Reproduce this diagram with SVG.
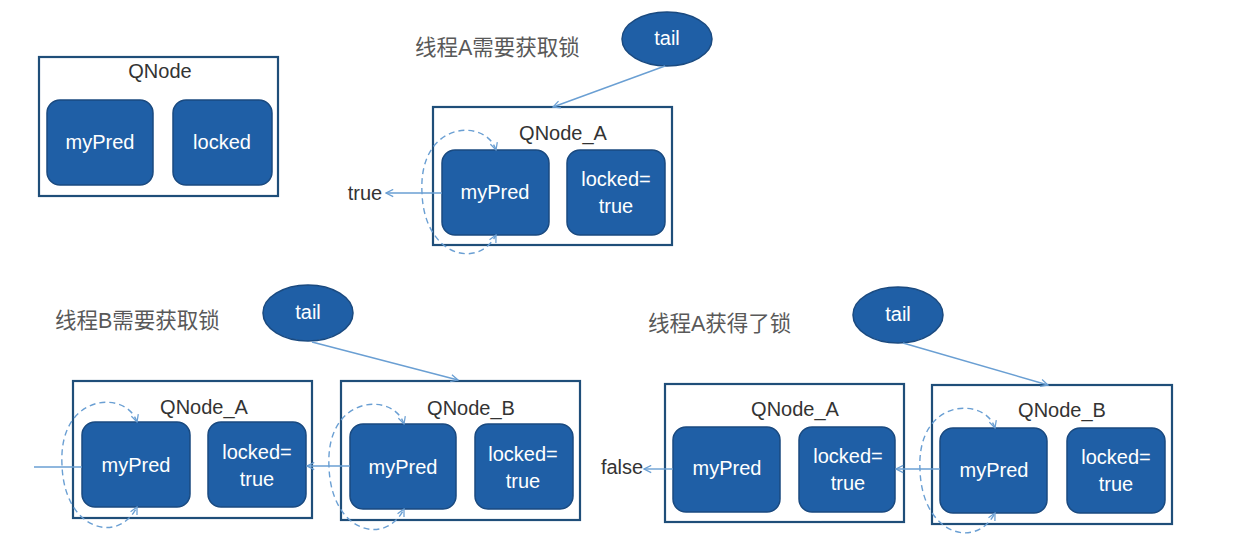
<svg xmlns="http://www.w3.org/2000/svg" width="1240" height="543" viewBox="0 0 1240 543">
<defs>
<style>
.frame{fill:#ffffff;stroke:#1f4e79;stroke-width:2.2}
.cell{fill:#1f5fa6;stroke:#1a4a80;stroke-width:1.5}
.tailshape{fill:#1f5fa6;stroke:#1a4a80;stroke-width:1.5}
.wt{font-family:"Liberation Sans",Arial,sans-serif;font-size:20px;fill:#ffffff;text-anchor:middle}
.lbl{font-family:"Liberation Sans",Arial,sans-serif;font-size:20px;fill:#333333;text-anchor:middle}
.ttl{font-family:"Liberation Sans","Noto Sans CJK SC",sans-serif;font-size:21.5px;fill:#595959}
.conn{fill:none;stroke:#6a9fd3;stroke-width:1.4}
.loop{fill:none;stroke:#6a9fd3;stroke-width:1.4;stroke-dasharray:6 4}
</style>
<marker id="arr" viewBox="0 0 10 10" refX="9" refY="5" markerWidth="9" markerHeight="9" markerUnits="userSpaceOnUse" orient="auto-start-reverse">
<path d="M1,1 L9,5 L1,9" fill="none" stroke="#6a9fd3" stroke-width="1.4"/>
</marker>
</defs>
<rect width="1240" height="543" fill="#ffffff"/>

<g id="legend">
<rect class="frame" x="39" y="57" width="239" height="139"/>
<text class="lbl" x="160" y="78">QNode</text>
<rect class="cell" x="47" y="100" width="106" height="85" rx="13"/>
<text class="wt" x="100" y="149">myPred</text>
<rect class="cell" x="173" y="100" width="99" height="85" rx="13"/>
<text class="wt" x="222" y="149">locked</text>
</g>

<g id="titles">
<text class="ttl" x="415" y="55">线程A需要获取锁</text>
<text class="ttl" x="55" y="328">线程B需要获取锁</text>
<text class="ttl" x="648" y="331">线程A获得了锁</text>
</g>

<g id="tail1">
<ellipse class="tailshape" cx="667" cy="39" rx="45" ry="27"/>
<text class="wt" x="667" y="45">tail</text>
</g>
<g id="tail2">
<ellipse class="tailshape" cx="308" cy="313" rx="45" ry="28"/>
<text class="wt" x="308" y="319">tail</text>
</g>
<g id="tail3">
<ellipse class="tailshape" cx="898" cy="315" rx="45" ry="28"/>
<text class="wt" x="898" y="321">tail</text>
</g>

<g id="qnodeA1">
<rect class="frame" x="433" y="107" width="239" height="138"/>
<text class="lbl" x="563" y="140">QNode_A</text>
<rect class="cell" x="442" y="150" width="107" height="85" rx="13"/>
<text class="wt" x="495" y="199">myPred</text>
<rect class="cell" x="567" y="150" width="98" height="85" rx="13"/>
<text class="wt" x="616" y="186">locked=</text>
<text class="wt" x="616" y="213">true</text>
</g>

<g id="qnodeA2">
<rect class="frame" x="73" y="381" width="239" height="137"/>
<text class="lbl" x="204" y="414">QNode_A</text>
<rect class="cell" x="82" y="422" width="108" height="85" rx="13"/>
<text class="wt" x="136" y="472">myPred</text>
<rect class="cell" x="208" y="422" width="98" height="85" rx="13"/>
<text class="wt" x="257" y="459">locked=</text>
<text class="wt" x="257" y="486">true</text>
</g>

<g id="qnodeB2">
<rect class="frame" x="341" y="381" width="239" height="139"/>
<text class="lbl" x="471" y="415">QNode_B</text>
<rect class="cell" x="350" y="424" width="106" height="85" rx="13"/>
<text class="wt" x="403" y="474">myPred</text>
<rect class="cell" x="475" y="424" width="98" height="85" rx="13"/>
<text class="wt" x="523" y="461">locked=</text>
<text class="wt" x="523" y="488">true</text>
</g>

<g id="qnodeA3">
<rect class="frame" x="665" y="384" width="239" height="138"/>
<text class="lbl" x="795" y="416">QNode_A</text>
<rect class="cell" x="673" y="427" width="107" height="85" rx="13"/>
<text class="wt" x="727" y="475">myPred</text>
<rect class="cell" x="799" y="427" width="96" height="85" rx="13"/>
<text class="wt" x="848" y="463">locked=</text>
<text class="wt" x="848" y="490">true</text>
</g>

<g id="qnodeB3">
<rect class="frame" x="932" y="385" width="240" height="139"/>
<text class="lbl" x="1062" y="417">QNode_B</text>
<rect class="cell" x="940" y="428" width="107" height="85" rx="13"/>
<text class="wt" x="994" y="477">myPred</text>
<rect class="cell" x="1067" y="428" width="98" height="85" rx="13"/>
<text class="wt" x="1116" y="464">locked=</text>
<text class="wt" x="1116" y="491">true</text>
</g>

<g id="values">
<text class="lbl" x="365" y="200">true</text>
<text class="lbl" x="622" y="474">false</text>
</g>

<g id="connectors">
<path class="conn" d="M665,66 L553,107" marker-end="url(#arr)"/>
<path class="conn" d="M442,193 L386,193" marker-end="url(#arr)"/>
<path class="loop" d="M496,150 C486,118 418,120 422,193 C424,256 478,270 496,235" marker-start="url(#arr)" marker-end="url(#arr)"/>

<path class="conn" d="M312,342 L458,380" marker-end="url(#arr)"/>
<path class="conn" d="M82,467 L34,467"/>
<path class="conn" d="M350,466 L307,466" marker-end="url(#arr)"/>
<path class="loop" d="M137,422 C127,390 58,392 62,465 C64,530 118,545 137,507" marker-start="url(#arr)" marker-end="url(#arr)"/>
<path class="loop" d="M404,424 C394,392 325,394 329,467 C331,532 385,547 404,509" marker-start="url(#arr)" marker-end="url(#arr)"/>

<path class="conn" d="M903,343 L1048,385" marker-end="url(#arr)"/>
<path class="conn" d="M673,469 L644,469" marker-end="url(#arr)"/>
<path class="conn" d="M940,469 L896,469" marker-end="url(#arr)"/>
<path class="loop" d="M995,428 C985,396 916,398 920,470 C922,535 976,550 995,513" marker-start="url(#arr)" marker-end="url(#arr)"/>
</g>
</svg>
